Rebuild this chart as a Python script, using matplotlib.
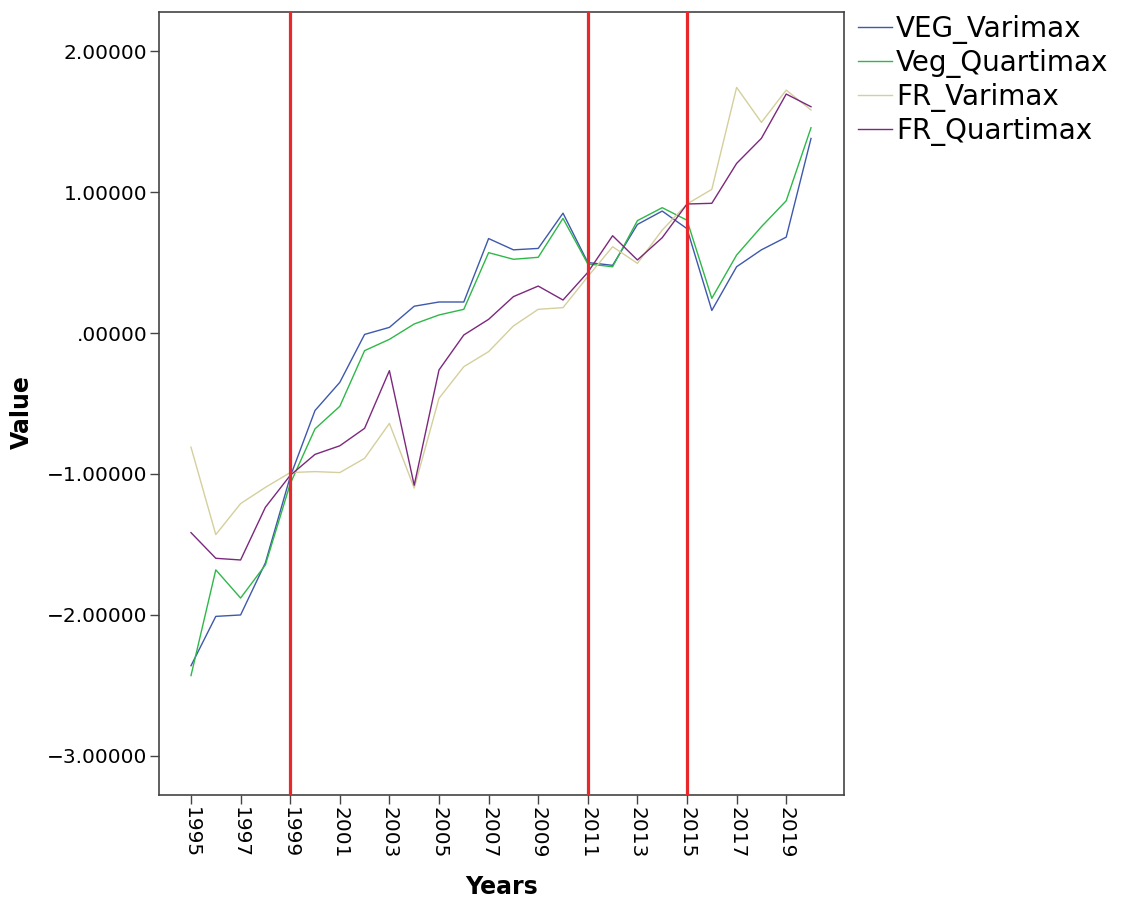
import numpy as np
import matplotlib
matplotlib.use("Agg")
import matplotlib.pyplot as plt
from matplotlib.ticker import FuncFormatter

years = list(range(1995, 2021))

veg_varimax = [-2.36, -2.01, -2.00, -1.63, -1.02, -0.55, -0.35, -0.01, 0.04, 0.19,
               0.22, 0.22, 0.67, 0.59, 0.60, 0.85, 0.50, 0.48, 0.77, 0.865,
               0.74, 0.16, 0.47, 0.59, 0.68, 1.38]
veg_quartimax = [-2.43, -1.68, -1.88, -1.645, -1.07, -0.68, -0.52, -0.125, -0.045, 0.064,
                 0.128, 0.168, 0.57, 0.523, 0.537, 0.813, 0.49, 0.47, 0.797, 0.889,
                 0.80, 0.246, 0.553, 0.754, 0.938, 1.456]
fr_varimax = [-0.81, -1.43, -1.21, -1.095, -0.99, -0.983, -0.99, -0.889, -0.641, -1.10,
              -0.463, -0.239, -0.132, 0.05, 0.168, 0.18, 0.40, 0.612, 0.494, 0.73,
              0.915, 1.019, 1.742, 1.494, 1.723, 1.582]
fr_quartimax = [-1.416, -1.598, -1.61, -1.236, -1.01, -0.861, -0.80, -0.676, -0.267, -1.08,
                -0.262, -0.014, 0.097, 0.258, 0.333, 0.234, 0.43, 0.69, 0.518, 0.676,
                0.915, 0.92, 1.203, 1.381, 1.695, 1.605]

series = [("VEG_Varimax", veg_varimax, "#3E58AC"),
          ("Veg_Quartimax", veg_quartimax, "#2EB848"),
          ("FR_Varimax", fr_varimax, "#D5CF9C"),
          ("FR_Quartimax", fr_quartimax, "#7C287D")]

break_years = [1999, 2011, 2015]
xtick_years = list(range(1995, 2021, 2))
yticks = [2, 1, 0, -1, -2, -3]

fig = plt.figure(figsize=(11.21, 8.98), dpi=100)
ax = fig.add_axes([159/1121, 1 - 795/898, (844 - 159)/1121, (795 - 12)/898])

for name, vals, c in series:
    ax.plot(years, vals, color=c, lw=1.0, label=name, zorder=2)

for yr in break_years:
    ax.axvline(yr, color="#E8282B", lw=2.3, zorder=3)

ax.set_xlim(1993.71, 2021.33)
ax.set_ylim(-3.277, 2.277)
ax.set_xticks(xtick_years)
ax.set_yticks(yticks)


def fmt(v, pos):
    s = "%.5f" % abs(v)
    if s.startswith("0"):
        s = s[1:]
    return ("\u2212" + s) if v < 0 else s


ax.yaxis.set_major_formatter(FuncFormatter(fmt))
ax.tick_params(axis="both", direction="out", length=6.5, width=1.0, color="#444444",
               labelsize=14.5, pad=2)
plt.setp(ax.get_xticklabels(), rotation=270)
for sp in ax.spines.values():
    sp.set_color("#444444")
    sp.set_linewidth(1.2)

lab_font = dict(family=["Liberation Sans Narrow", "DejaVu Sans"], weight="bold", size=17)
ax.set_xlabel("Years", labelpad=12, **lab_font)
ax.set_ylabel("Value", **lab_font)
ax.yaxis.set_label_coords((34 - 159)/685, (795 - 412)/783)

ha, lb = ax.get_legend_handles_labels()
leg = fig.legend(ha, lb, loc="upper left", bbox_to_anchor=(858/1121, 1 - 15/898),
                 frameon=False, fontsize=20, handlelength=1.22, handletextpad=0.14,
                 labelspacing=0.18, borderaxespad=0, borderpad=0)

fig.savefig("out.png", dpi=100)
